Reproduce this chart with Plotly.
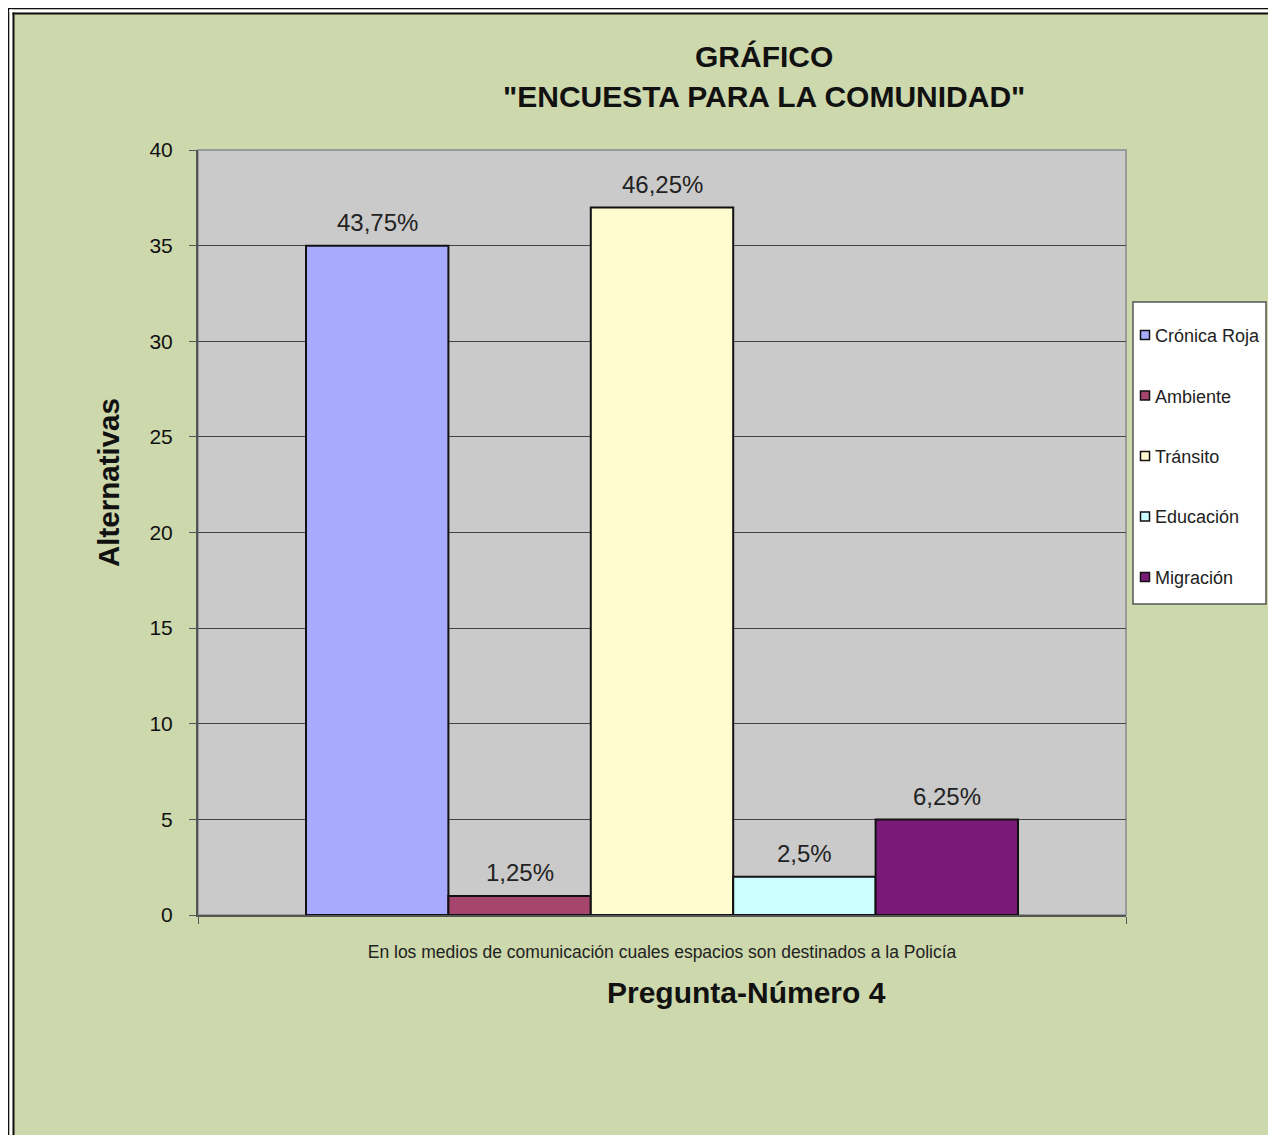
import plotly.graph_objects as go

# datos de la encuesta (pregunta 4)
categoria = "En los medios de comunicación cuales espacios son destinados a la Policía"
alternativas = ["Crónica Roja", "Ambiente", "Tránsito", "Educación", "Migración"]
valores = [35, 1, 37, 2, 5]
porcentajes = ["43,75%", "1,25%", "46,25%", "2,5%", "6,25%"]
colores = ["#A8AAFF", "#A6466F", "#FFFDD0", "#CCFFFF", "#7A1A78"]

# la pagina tiene 8px de margen en el body, todo se mide en px de la referencia
OFF = 8
W, H = 1276 - OFF, 1135 - OFF
PX0, PX1, PY0, PY1 = 198, 1126, 150, 915   # area de trazado (px referencia)
L, R, T, B = PX0 - OFF, 1276 - PX1, PY0 - OFF, 1135 - PY1
pw, ph = W - L - R, H - T - B
FONT = "Liberation Sans, Arial"


def px_x(p):
    return (p - PX0) / pw


def px_y(p):
    return (PY1 - p) / ph


fig = go.Figure()
posiciones = list(range(len(alternativas)))
for i, nombre, v, c in zip(posiciones, alternativas, valores, colores):
    fig.add_trace(go.Bar(
        x=[i], y=[v], name=nombre, width=1,
        marker=dict(color=c, line=dict(color="#111111", width=2)),
        showlegend=False,
    ))

# limites del eje x: las barras van de 306 a 1018 px
ancho_barra = (1018 - 306) / len(alternativas)
x_ini = -0.5 - (306 - PX0) / ancho_barra
x_fin = len(alternativas) - 0.5 + (PX1 - 1018) / ancho_barra

anotaciones = []
for i, v, txt in zip(posiciones, valores, porcentajes):
    anotaciones.append(dict(
        x=i, y=v, xref="x", yref="y", text=txt, showarrow=False,
        yshift=23, yanchor="middle", xanchor="center",
        font=dict(size=24, color="#222222", family=FONT),
    ))

# titulo
anotaciones.append(dict(text="<b>GRÁFICO</b>", xref="paper", yref="paper", x=px_x(764), y=px_y(56),
                        xanchor="center", yanchor="middle", showarrow=False,
                        font=dict(size=30, color="#111111", family=FONT)))
anotaciones.append(dict(text="<b>\"ENCUESTA PARA LA COMUNIDAD\"</b>", xref="paper", yref="paper",
                        x=px_x(764), y=px_y(96), xanchor="center", yanchor="middle", showarrow=False,
                        font=dict(size=30, color="#111111", family=FONT)))
# titulos de ejes
anotaciones.append(dict(text="<b>Pregunta-Número 4</b>", xref="paper", yref="paper",
                        x=px_x(746), y=px_y(992), xanchor="center", yanchor="middle",
                        showarrow=False, font=dict(size=30, color="#111111", family=FONT)))
anotaciones.append(dict(text="<b>Alternativas</b>", xref="paper", yref="paper",
                        x=px_x(108), y=px_y(483), xanchor="center", yanchor="middle", textangle=-90,
                        showarrow=False, font=dict(size=29.5, color="#111111", family=FONT)))

shapes = [
    # lineas dobles del marco
    dict(type="line", xref="paper", yref="paper", x0=px_x(8.75), x1=px_x(8.75), y0=px_y(8), y1=px_y(1200),
         line=dict(color="#111111", width=1.5)),
    dict(type="line", xref="paper", yref="paper", x0=px_x(8), x1=px_x(1300), y0=px_y(8.75), y1=px_y(8.75),
         line=dict(color="#111111", width=1.5)),
    dict(type="rect", xref="paper", yref="paper", x0=px_x(9.5), x1=px_x(12.5), y0=px_y(1200), y1=px_y(9.5),
         fillcolor="white", line=dict(width=0)),
    dict(type="rect", xref="paper", yref="paper", x0=px_x(9.5), x1=px_x(1300), y0=px_y(12.5), y1=px_y(9.5),
         fillcolor="white", line=dict(width=0)),
    dict(type="line", xref="paper", yref="paper", x0=px_x(13.5), x1=px_x(13.5), y0=px_y(12.5), y1=px_y(1200),
         line=dict(color="#111111", width=2)),
    dict(type="line", xref="paper", yref="paper", x0=px_x(12.5), x1=px_x(1300), y0=px_y(13.5), y1=px_y(13.5),
         line=dict(color="#111111", width=2)),
    # borde gris del area de trazado
    dict(type="rect", xref="paper", yref="paper", x0=0, x1=1, y0=0, y1=1,
         line=dict(color="#9A9A9A", width=2), layer="below"),
    # caja de la leyenda
    dict(type="rect", xref="paper", yref="paper", x0=px_x(1133), x1=px_x(1266), y0=px_y(604), y1=px_y(302),
         fillcolor="white", line=dict(color="#555555", width=1.5)),
]

# leyenda manual
paso = 60.5
for k, (nombre, c) in enumerate(zip(alternativas, colores)):
    yc = 335 + k * paso
    shapes.append(dict(type="rect", xref="paper", yref="paper",
                       x0=px_x(1140.5), x1=px_x(1149.5), y0=px_y(yc + 4.5), y1=px_y(yc - 4.5),
                       fillcolor=c, line=dict(color="#111111", width=1.5)))
    anotaciones.append(dict(text=nombre, xref="paper", yref="paper", x=px_x(1153), y=px_y(yc + 1),
                            xanchor="left", yanchor="middle", showarrow=False,
                            font=dict(size=18, color="#222222", family=FONT)))

fig.update_layout(
    width=W, height=H,
    margin=dict(l=L, r=R, t=T, b=B),
    paper_bgcolor="#CDD8AC",
    plot_bgcolor="#CACACA",
    font=dict(family=FONT, color="#111111"),
    barmode="overlay",
    showlegend=False,
    shapes=shapes,
    annotations=anotaciones,
)

fig.update_yaxes(
    range=[0, 40], dtick=5,
    showgrid=True, gridcolor="#444444", gridwidth=1,
    showline=True, linecolor="#555555", linewidth=2,
    ticks="outside", ticklen=7, tickcolor="#555555",
    ticklabelstandoff=12,
    tickfont=dict(size=21, color="#111111", family=FONT),
    zeroline=False,
)
fig.update_xaxes(
    range=[x_ini, x_fin],
    tickvals=[(len(alternativas) - 1) / 2], ticktext=[categoria],
    ticks="", showgrid=False, zeroline=False,
    minor=dict(tickvals=[x_ini, x_fin], ticks="outside", ticklen=7, tickcolor="#555555", showgrid=False),
    showline=True, linecolor="#555555", linewidth=2,
    ticklabelstandoff=20,
    tickfont=dict(size=17.5, color="#222222", family=FONT),
)

fig.write_html("out.html")
